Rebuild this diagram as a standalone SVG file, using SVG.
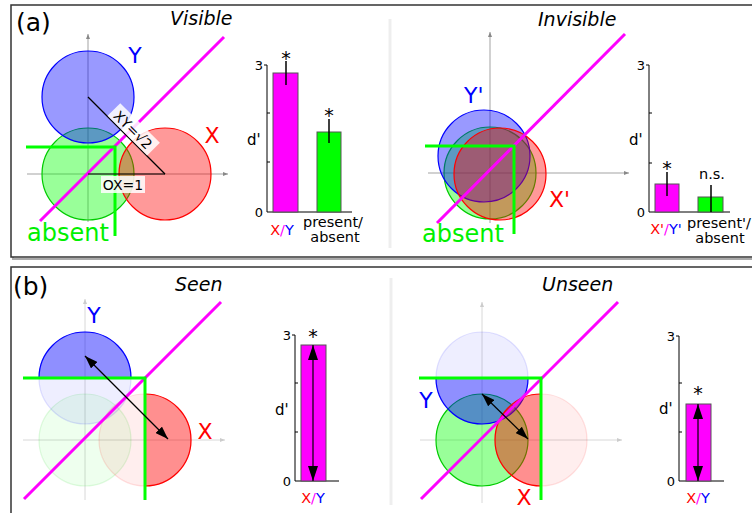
<svg xmlns="http://www.w3.org/2000/svg" width="752" height="513" viewBox="0 0 752 513">
<style>
text{font-family:"DejaVu Sans","Liberation Sans",sans-serif;fill:#000}
.it{font-style:italic;font-size:19px}
.pl{font-size:25px}
.ax{stroke:#999;stroke-width:0.9;fill:none}
.axl{stroke:#d4d4d4;stroke-width:0.9;fill:none}
.mag{stroke:#ff00ff;stroke-width:3;fill:none}
.crit{stroke:#00ff00;stroke-width:3;fill:none}
.cb{fill:#0000ff;fill-opacity:.4;stroke:#0000ff;stroke-width:1.2}
.cg{fill:#00ff00;fill-opacity:.4;stroke:#00cc00;stroke-width:1.2}
.cr{fill:#ff0000;fill-opacity:.4;stroke:#ff0000;stroke-width:1.2}
.fb{fill:#0000ff;fill-opacity:.065;stroke:#0000ff;stroke-opacity:.12;stroke-width:1.2}
.fg{fill:#00ff00;fill-opacity:.065;stroke:#00cc00;stroke-opacity:.12;stroke-width:1.2}
.fr{fill:#ff0000;fill-opacity:.065;stroke:#ff0000;stroke-opacity:.12;stroke-width:1.2}
.bax{stroke:#000;stroke-width:1;fill:none}
.barm{fill:#ff00ff;stroke:#555;stroke-width:1}
.barg{fill:#00ff00;stroke:#555;stroke-width:1}
.eb{stroke:#000;stroke-width:1.5}
.dbl{stroke:#000;stroke-width:1.2;fill:none}
.sep{stroke:#eeeeee;stroke-width:3}
.num{font-size:13px;text-anchor:end}
.dp{font-size:15px}
.star{font-size:19px;text-anchor:middle}
.cat{font-size:14.5px;text-anchor:middle}
.big{font-size:22px}
.abs{font-size:24px;fill:#00f000}
.lab{font-size:14px}
</style>
<defs>
<marker id="ah" viewBox="0 0 13 9" refX="13" refY="4.5" markerWidth="13" markerHeight="9" markerUnits="userSpaceOnUse" orient="auto-start-reverse"><path d="M0,0 L13,4.5 L0,9 z" fill="#000"/></marker>
<marker id="ahb" viewBox="0 0 15 10" refX="15" refY="5" markerWidth="15" markerHeight="10" markerUnits="userSpaceOnUse" orient="auto-start-reverse"><path d="M0,0 L15,5 L0,10 z" fill="#000"/></marker>
<marker id="axa" viewBox="0 0 5 4" refX="5" refY="2" markerWidth="5" markerHeight="4" markerUnits="userSpaceOnUse" orient="auto"><path d="M0,0 L5,2 L0,4 z" fill="#888"/></marker>
<marker id="axb" viewBox="0 0 5 4" refX="5" refY="2" markerWidth="5" markerHeight="4" markerUnits="userSpaceOnUse" orient="auto"><path d="M0,0 L5,2 L0,4 z" fill="#ccc"/></marker>
<clipPath id="seenTop"><rect x="0" y="267" width="390" height="111"/></clipPath>
<clipPath id="seenRight"><rect x="145" y="267" width="245" height="246"/></clipPath>
<clipPath id="unBot"><rect x="392" y="378" width="360" height="135"/></clipPath>
<clipPath id="unLeft"><rect x="392" y="267" width="149" height="246"/></clipPath>
</defs>

<g id="frames">
<rect x="13" y="7" width="760" height="252" fill="none" stroke="#aaa" stroke-width="2"/>
<rect x="11" y="5" width="760" height="252" fill="#fff" stroke="#333" stroke-width="1.5"/>
<rect x="11" y="267" width="760" height="260" fill="#fff" stroke="#333" stroke-width="1.5"/>
<line class="sep" x1="390" y1="19" x2="390" y2="248"/>
<line class="sep" x1="391" y1="278" x2="391" y2="505"/>
<text class="pl" x="16" y="31">(a)</text>
<text class="pl" x="13" y="295">(b)</text>
</g>

<g id="visible">
<text class="it" x="170" y="25">Visible</text>
<line class="ax" x1="88" y1="222" x2="88" y2="34" marker-end="url(#axa)"/>
<line class="ax" x1="27" y1="174" x2="228" y2="174" marker-end="url(#axa)"/>
<circle class="cg" cx="88" cy="174" r="46"/>
<circle class="cb" cx="88" cy="97" r="46"/>
<circle class="cr" cx="165" cy="174" r="46"/>
<line class="mag" x1="40" y1="221" x2="224" y2="37"/>
<path class="crit" d="M26,147 H115 V236"/>
<line stroke="#000" stroke-width="1.2" x1="88" y1="97" x2="165" y2="174"/>
<line stroke="#000" stroke-width="1.2" x1="88" y1="174" x2="165" y2="174"/>
<g transform="translate(133,130) rotate(45)">
<rect x="-28" y="-10" width="56" height="18" fill="#fff" fill-opacity="0.85"/>
<text class="lab" x="0" y="5" text-anchor="middle">XY=√2</text>
</g>
<rect x="101" y="176" width="44" height="17" fill="#fff" fill-opacity="0.85"/>
<text class="lab" x="123" y="190" text-anchor="middle">OX=1</text>
<text class="big" x="135" y="63" text-anchor="middle" style="fill:#0000ff">Y</text>
<text class="big" x="212" y="143" text-anchor="middle" style="fill:#ff0000">X</text>
<text class="abs" x="27" y="241">absent</text>
</g>

<g id="visible-chart">
<path class="bax" d="M267,65 V212 H352 M264,65 H267 M267,113 H270 M267,162 H270"/>
<text class="num" x="263" y="70">3</text>
<text class="num" x="263" y="217">0</text>
<text class="dp" x="247" y="145">d'</text>
<rect class="barm" x="273" y="73" width="25" height="139"/>
<rect class="barg" x="317" y="132" width="24" height="80"/>
<line class="eb" x1="286" y1="61" x2="286" y2="85"/>
<line class="eb" x1="329" y1="119" x2="329" y2="143"/>
<text class="star" x="286" y="65">*</text>
<text class="star" x="329" y="122">*</text>
<text class="cat" x="282" y="235"><tspan style="fill:#ff0000">X</tspan><tspan style="fill:#ff00ff">/</tspan><tspan style="fill:#0000ff">Y</tspan></text>
<text class="cat" x="333" y="227">present/</text>
<text class="cat" x="335" y="242">absent</text>
</g>

<g id="invisible">
<text class="it" x="538" y="26">Invisible</text>
<line class="ax" x1="490" y1="223" x2="490" y2="32" marker-end="url(#axa)"/>
<line class="ax" x1="428" y1="173" x2="629" y2="173" marker-end="url(#axa)"/>
<circle class="cg" cx="490" cy="173" r="46"/>
<circle class="cb" cx="484" cy="156" r="46"/>
<circle class="cr" cx="500" cy="174" r="46"/>
<line class="mag" x1="437" y1="223" x2="625" y2="34"/>
<path class="crit" d="M425,146 H514 V234"/>
<text class="big" x="464" y="103" style="fill:#0000ff">Y'</text>
<text class="big" x="549" y="207" style="fill:#ff0000">X'</text>
<text class="abs" x="422" y="242">absent</text>
</g>

<g id="invisible-chart">
<path class="bax" d="M649,65 V212 H730 M646,65 H649 M649,113 H652 M649,163 H652"/>
<text class="num" x="645" y="70">3</text>
<text class="num" x="645" y="217">0</text>
<text class="dp" x="629" y="145">d'</text>
<rect class="barm" x="655" y="184" width="24" height="28"/>
<rect class="barg" x="698" y="197" width="25" height="15"/>
<line class="eb" x1="667" y1="172" x2="667" y2="196"/>
<line class="eb" x1="711" y1="185" x2="711" y2="212"/>
<text class="star" x="667" y="175">*</text>
<text class="cat" x="712" y="179">n.s.</text>
<text class="cat" x="666" y="234"><tspan style="fill:#ff0000">X'</tspan><tspan style="fill:#ff00ff">/</tspan><tspan style="fill:#0000ff">Y'</tspan></text>
<text class="cat" x="719" y="228">present'/</text>
<text class="cat" x="720" y="243">absent</text>
</g>

<g id="seen">
<text class="it" x="175" y="291">Seen</text>
<line class="axl" x1="85" y1="500" x2="85" y2="299" marker-end="url(#axb)"/>
<line class="axl" x1="23" y1="440" x2="225" y2="440" marker-end="url(#axb)"/>
<circle class="fg" cx="85" cy="440" r="46"/>
<circle class="fb" cx="85" cy="378" r="46"/>
<circle class="fr" cx="145" cy="440" r="46"/>
<circle class="cb" cx="85" cy="378" r="46" clip-path="url(#seenTop)"/>
<circle class="cr" cx="145" cy="440" r="46" clip-path="url(#seenRight)"/>
<line class="mag" x1="24" y1="499" x2="221" y2="302"/>
<path class="crit" d="M23,378 H145 V500"/>
<line class="dbl" x1="85" y1="356" x2="168" y2="439" marker-start="url(#ah)" marker-end="url(#ah)"/>
<text class="big" x="94" y="323" text-anchor="middle" style="fill:#0000ff">Y</text>
<text class="big" x="205" y="439" text-anchor="middle" style="fill:#ff0000">X</text>
</g>

<g id="seen-chart">
<path class="bax" d="M295,335 V481 H339 M292,335 H295 M295,383 H298 M295,432 H298"/>
<text class="num" x="291" y="340">3</text>
<text class="num" x="291" y="486">0</text>
<text class="dp" x="275" y="415">d'</text>
<rect class="barm" x="301" y="345" width="25" height="136"/>
<line class="dbl" x1="313" y1="345" x2="313" y2="481" marker-start="url(#ahb)" marker-end="url(#ahb)"/>
<text class="star" x="313" y="343">*</text>
<text class="cat" x="313" y="503"><tspan style="fill:#ff0000">X</tspan><tspan style="fill:#ff00ff">/</tspan><tspan style="fill:#0000ff">Y</tspan></text>
</g>

<g id="unseen">
<text class="it" x="542" y="291">Unseen</text>
<line class="axl" x1="482" y1="503" x2="482" y2="302" marker-end="url(#axb)"/>
<line class="axl" x1="420" y1="440" x2="622" y2="440" marker-end="url(#axb)"/>
<circle class="cg" cx="482" cy="440" r="46"/>
<circle class="fb" cx="482" cy="378" r="46"/>
<circle class="fr" cx="541" cy="440" r="46"/>
<circle class="cb" cx="482" cy="378" r="46" clip-path="url(#unBot)"/>
<circle class="cr" cx="541" cy="440" r="46" clip-path="url(#unLeft)"/>
<line class="mag" x1="421" y1="499" x2="618" y2="302"/>
<path class="crit" d="M419,378 H541 V500"/>
<line class="dbl" x1="482" y1="394" x2="528" y2="439" marker-start="url(#ah)" marker-end="url(#ah)"/>
<text class="big" x="426" y="408" text-anchor="middle" style="fill:#0000ff">Y</text>
<text class="big" x="524" y="505" text-anchor="middle" style="fill:#ff0000">X</text>
</g>

<g id="unseen-chart">
<path class="bax" d="M679,336 V481 H724 M676,336 H679 M679,383 H682 M679,432 H682"/>
<text class="num" x="675" y="341">3</text>
<text class="num" x="675" y="486">0</text>
<text class="dp" x="659" y="414">d'</text>
<rect class="barm" x="686" y="404" width="25" height="77"/>
<line class="dbl" x1="698" y1="404" x2="698" y2="481" marker-start="url(#ahb)" marker-end="url(#ahb)"/>
<text class="star" x="698" y="400">*</text>
<text class="cat" x="698" y="503"><tspan style="fill:#ff0000">X</tspan><tspan style="fill:#ff00ff">/</tspan><tspan style="fill:#0000ff">Y</tspan></text>
</g>
</svg>
